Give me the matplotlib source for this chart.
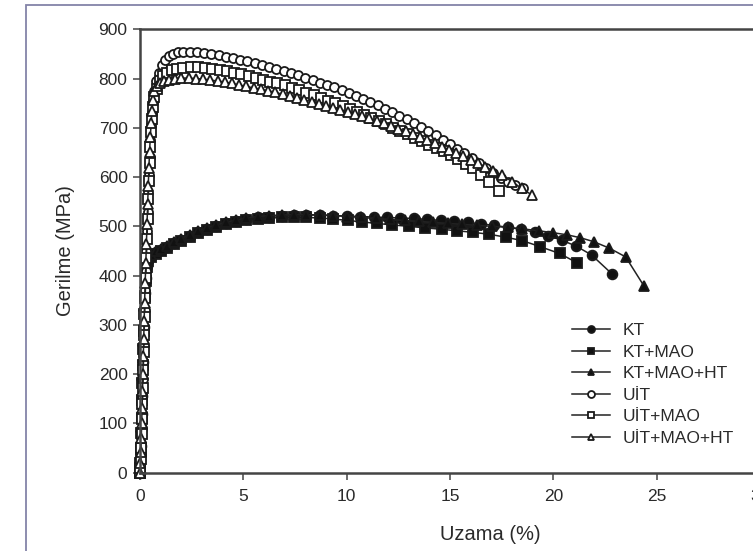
import matplotlib
matplotlib.use("Agg")
import matplotlib.pyplot as plt
from matplotlib.patches import Rectangle

plt.rcParams['font.family'] = ['Liberation Sans', 'DejaVu Sans']

# elastic part (shared strain steps)
el_open_x = [0, 0.02, 0.04, 0.06, 0.08, 0.1, 0.12, 0.14, 0.16, 0.18, 0.2, 0.22, 0.25,
             0.28, 0.31, 0.34, 0.37, 0.4, 0.43, 0.46, 0.5, 0.54, 0.58, 0.63, 0.7, 0.78]
el_black_x = [0, 0.02, 0.04, 0.06, 0.08, 0.1, 0.12, 0.14, 0.16, 0.18, 0.2, 0.23, 0.27, 0.32]

# UIT (open circles)
uit_x = el_open_x + [0.9, 1.05, 1.2, 1.4, 1.6, 1.85, 2.1, 2.4, 2.75, 3.1, 3.45, 3.8, 4.15,
                     4.5, 4.85, 5.2, 5.55, 5.9, 6.25, 6.6, 6.95, 7.3, 7.65, 8.0, 8.35, 8.7,
                     9.05, 9.4, 9.75, 10.1, 10.45, 10.8, 11.15, 11.5, 11.85, 12.2, 12.55,
                     12.9, 13.25, 13.6, 13.95, 14.3, 14.65, 15.0, 15.35, 15.7, 16.05, 16.4,
                     16.75, 17.1, 17.45, 17.8, 18.15, 18.55]
uit_y = [0, 15, 35, 60, 90, 120, 155, 190, 225, 260, 295, 330, 370, 410, 450, 490, 530,
         570, 605, 640, 675, 705, 730, 755, 775, 795,
         812, 828, 838, 845, 850, 853, 854, 854, 853, 851, 849, 847, 844, 841, 838, 835,
         831, 828, 824, 820, 816, 811, 807, 802, 797, 792, 787, 782, 777, 771, 765, 759,
         753, 746, 739, 732, 725, 717, 709, 701, 693, 685, 676, 667, 658, 649, 639, 629,
         619, 609, 599, 591, 584, 578]

# UIT+MAO (open squares)
uitm_x = el_open_x[:-1] + [0.8, 0.95, 1.1, 1.3, 1.55, 1.8, 2.1, 2.45, 2.8, 3.15, 3.5, 3.85,
                           4.2, 4.55, 4.9, 5.25, 5.6, 5.95, 6.3, 6.65, 7.0, 7.35, 7.7, 8.05,
                           8.4, 8.75, 9.1, 9.45, 9.8, 10.15, 10.5, 10.85, 11.2, 11.55, 11.9,
                           12.25, 12.6, 12.95, 13.3, 13.65, 14.0, 14.35, 14.7, 15.05, 15.4,
                           15.75, 16.1, 16.5, 16.9, 17.35]
uitm_y = [0, 10, 28, 50, 78, 108, 140, 172, 208, 244, 280, 316, 355, 395, 435, 475, 515,
          555, 592, 628, 662, 692, 718, 742, 762, 778,
          795, 805, 812, 817, 820, 822, 823, 823, 822, 820, 818, 815, 812, 809, 806, 802,
          798, 794, 790, 786, 781, 776, 771, 766, 761, 755, 750, 744, 738, 732, 726, 719,
          713, 707, 700, 694, 687, 680, 673, 666, 659, 652, 644, 636, 627, 618, 605, 590,
          572]

# UIT+MAO+HT (open triangles)
uitmh_x = el_open_x[:-1] + [0.8, 0.95, 1.15, 1.4, 1.7, 2.0, 2.35, 2.7, 3.05, 3.4, 3.75,
                            4.1, 4.45, 4.8, 5.15, 5.5, 5.85, 6.2, 6.55, 6.9, 7.25, 7.6, 7.95,
                            8.3, 8.65, 9.0, 9.35, 9.7, 10.05, 10.4, 10.75, 11.1, 11.45, 11.8,
                            12.15, 12.5, 12.85, 13.2, 13.55, 13.9, 14.25, 14.6, 14.95, 15.3,
                            15.65, 16.0, 16.35, 16.7, 17.1, 17.5, 18.0, 18.47, 18.95]
uitmh_y = [0, 20, 42, 70, 100, 132, 165, 200, 236, 272, 308, 344, 385, 425, 465, 505, 545,
           582, 618, 650, 682, 710, 735, 757, 775, 785,
           792, 796, 798, 800, 801, 801, 800, 799, 797, 795, 793, 790, 787, 784, 781, 778,
           775, 772, 768, 765, 761, 757, 753, 749, 745, 741, 737, 733, 728, 724, 719, 714,
           709, 704, 698, 693, 687, 681, 675, 669, 662, 656, 649, 642, 635, 628, 621, 613,
           604, 591, 577, 564]

# KT (filled circles)
kt_x = el_black_x + [0.4, 0.55, 0.75, 1.0, 1.3, 1.65, 2.0, 2.4, 2.8, 3.25, 3.7, 4.15, 4.65,
                     5.15, 5.7, 6.25, 6.85, 7.45, 8.05, 8.7, 9.35, 10.0, 10.65, 11.3, 11.95,
                     12.6, 13.25, 13.9, 14.55, 15.2, 15.85, 16.5, 17.15, 17.8, 18.45, 19.1,
                     19.75, 20.4, 21.1, 21.85, 22.85]
kt_y = [0, 25, 55, 85, 120, 155, 190, 225, 260, 295, 330, 365, 395, 420,
        432, 440, 447, 453, 459, 466, 473, 481, 488, 495, 501, 506, 511, 515, 518, 520, 522,
        523, 523, 523, 522, 521, 520, 519, 518, 517, 516, 514, 512, 510, 508, 505, 502, 498,
        494, 488, 481, 472, 460, 442, 403]

# KT+MAO (filled squares)
ktm_x = el_black_x + [0.4, 0.55, 0.75, 1.0, 1.3, 1.65, 2.0, 2.4, 2.8, 3.25, 3.7, 4.15, 4.65,
                      5.15, 5.7, 6.25, 6.85, 7.45, 8.05, 8.7, 9.35, 10.05, 10.75, 11.45,
                      12.2, 13.0, 13.8, 14.6, 15.35, 16.1, 16.9, 17.7, 18.5, 19.35, 20.3,
                      21.15]
ktm_y = [0, 20, 48, 80, 112, 148, 182, 218, 252, 288, 322, 358, 390, 418,
         430, 437, 444, 451, 457, 464, 471, 479, 486, 493, 499, 504, 508, 512, 515, 517, 518,
         518, 518, 517, 515, 512, 509, 506, 503, 500, 497, 494, 491, 488, 484, 478, 471, 459,
         445, 426]

# KT+MAO+HT (filled triangles)
ktmh_x = el_black_x + [0.4, 0.55, 0.75, 1.0, 1.3, 1.65, 2.0, 2.4, 2.8, 3.25, 3.7, 4.15,
                       4.65, 5.15, 5.7, 6.25, 6.85, 7.45, 8.05, 8.7, 9.35, 10.0, 10.7, 11.4,
                       12.1, 12.8, 13.5, 14.2, 14.9, 15.6, 16.3, 17.05, 17.8, 18.5, 19.3,
                       20.0, 20.65, 21.3, 21.95, 22.7, 23.5, 24.4]
ktmh_y = [0, 30, 62, 92, 128, 162, 198, 232, 268, 302, 338, 372, 400, 424,
          434, 442, 449, 455, 461, 468, 475, 483, 490, 497, 503, 508, 513, 517, 520, 522,
          523, 524, 524, 523, 522, 520, 518, 516, 514, 512, 510, 508, 506, 504, 502, 500,
          498, 495, 491, 487, 483, 477, 469, 456, 438, 378]

names = ["KT", "KT+MAO", "KT+MAO+HT", "UİT", "UİT+MAO", "UİT+MAO+HT"]
xs = [kt_x, ktm_x, ktmh_x, uit_x, uitm_x, uitmh_x]
ys = [kt_y, ktm_y, ktmh_y, uit_y, uitm_y, uitmh_y]
marks = ["o", "s", "^", "o", "s", "^"]
fills = ["#111111", "#111111", "#111111", "white", "white", "white"]

fig = plt.figure(figsize=(7.53, 5.51), dpi=100)

# scanned page frame
fig.patches.append(Rectangle((26 / 753, -0.1), 1.0, (546 / 551) + 0.1, transform=fig.transFigure,
                             fill=False, edgecolor="#8484a8", linewidth=1.3))

ax = fig.add_axes([140 / 753, 78.3 / 551, 620 / 753, 443.4 / 551])

for i in range(6):
    ms = 7 if fills[i] != "white" else 6.5
    ax.plot(xs[i], ys[i], marker=marks[i], color="#222222", linewidth=1.1,
            markersize=ms, markerfacecolor=fills[i], markeredgecolor="#1a1a1a",
            markeredgewidth=1.3, label=names[i], clip_on=False)

ax.set_xlim(0, 30)
ax.set_ylim(0, 900)
ax.set_xticks([0, 5, 10, 15, 20, 25, 30])
ax.set_yticks(range(0, 901, 100))
ax.spines["right"].set_visible(False)
for s in ["left", "bottom", "top"]:
    ax.spines[s].set_color("#444444")
    ax.spines[s].set_linewidth(1.8)
ax.tick_params(direction="out", length=5, width=1.1, color="#444444",
               labelsize=12.5, labelcolor="#2a2a2a")
ax.tick_params(axis="x", pad=7)
ax.tick_params(axis="y", pad=4)

ax.set_xlabel("Uzama (%)", fontsize=14.5, color="#2a2a2a")
ax.xaxis.set_label_coords((490 - 140) / 620, -(525 - 472.7) / 443.4)
ax.set_ylabel("Gerilme (MPa)", fontsize=14.5, color="#2a2a2a")
ax.yaxis.set_label_coords(-(140 - 75) / 620, 0.5)

leg = ax.legend(loc="upper left", bbox_to_anchor=(572 / 753, (551 - 323) / 551),
                bbox_transform=fig.transFigure, frameon=False, fontsize=12.5,
                handlelength=2.2, labelspacing=0.37, handletextpad=0.7, borderpad=0,
                borderaxespad=0)
for t in leg.get_texts():
    t.set_color("#2a2a2a")
for h in leg.legend_handles:
    h.set_markersize(5)

fig.savefig("out.png", dpi=100)
